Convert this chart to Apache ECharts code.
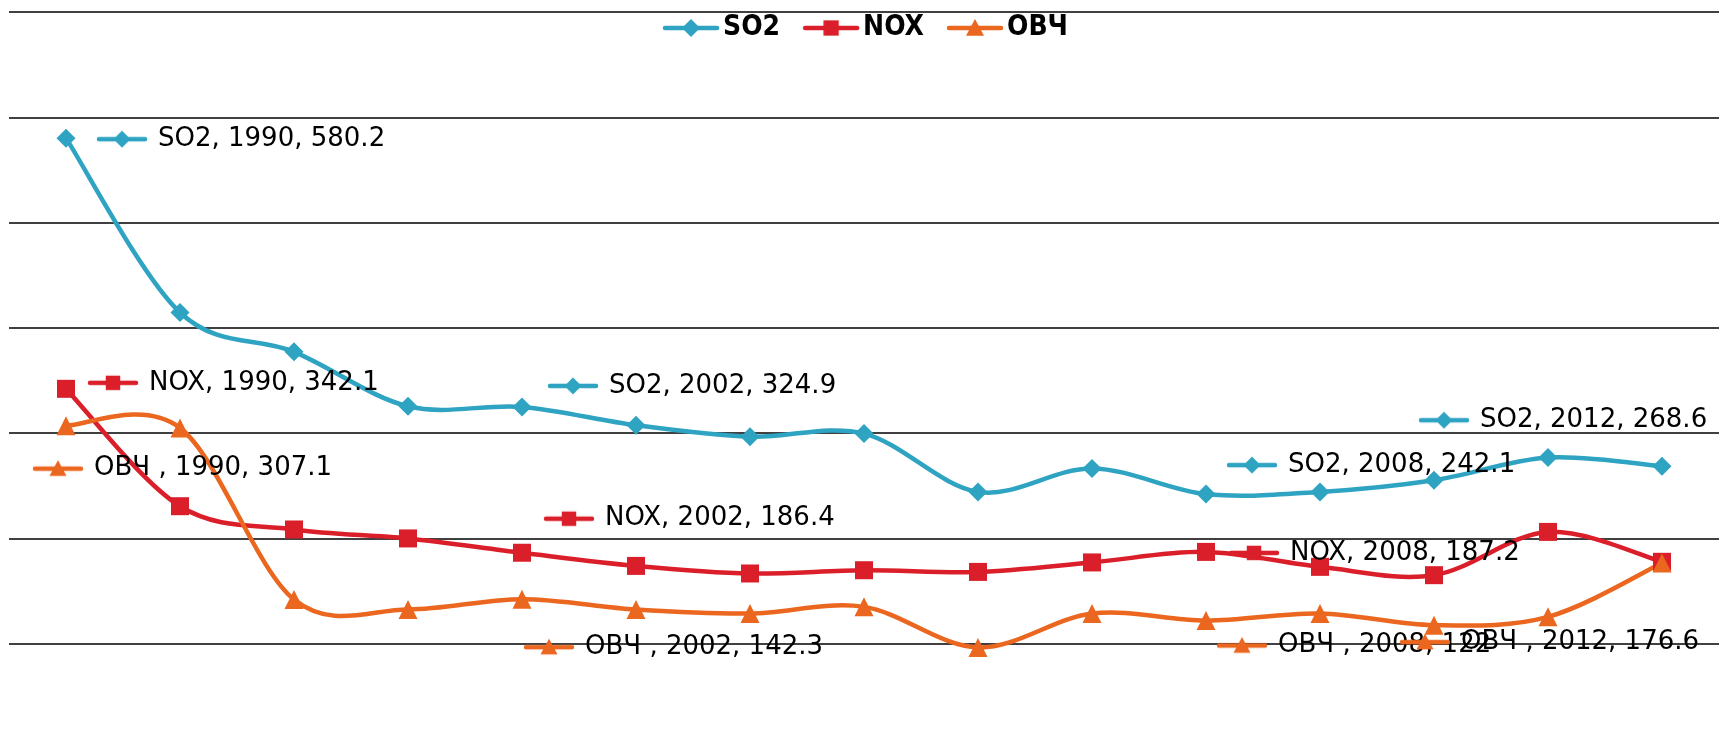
<!DOCTYPE html>
<html>
<head>
<meta charset="utf-8">
<script src="https://cdn.jsdelivr.net/npm/echarts@6/dist/echarts.min.js"></script>
<style>
  html, body { margin: 0; padding: 0; background: #fff; overflow: hidden; }
  #chart { width: 1719px; height: 752px; }
</style>
</head>
<body>
<div id="chart"></div>
<script>
// categories and values
const years = ['1990', '1995', '2000', '2001', '2002', '2003', '2004', '2005',
               '2006', '2007', '2008', '2009', '2010', '2011', '2012']
const so2 = [580.2, 414.6, 377.2, 325.5, 324.9, 307.5, 296.6, 299.6, 244.2, 266.5, 242.1, 244.2, 255.3, 276.9, 268.6]
const nox = [342.1, 230.6, 208.5, 200.0, 186.4, 173.9, 166.7, 169.8, 168.2, 177.2, 187.2, 173.0, 165.1, 206.2, 177.8]
const ovch = [307.1, 305.0, 142.0, 132.5, 142.3, 132.5, 128.7, 135.0, 96.4, 128.7, 122, 128.7, 117.6, 125.5, 176.6]

// where the labelled points' labels sit: index -> [key left from point, centre dy]
const labelPos = {
    so2: { 0: [30, 1], 4: [25, -21], 10: [20, -29], 14: [-244, -46] },
    nox: { 0: [21, -6], 4: [21, -34], 10: [22, 1] },
    ovch: { 0: [-34, 43], 4: [1, 48], 10: [10, 25], 14: [-263, 79] }
}

const colors = { so2: '#2ea3c2', nox: '#da1f2a', ovch: '#eb661e' }

// little key (line + marker) used in the legend and inside the labels
function keyIcon(color, shape, w, h, m) {
    const c = document.createElement('canvas')
    c.width = w
    c.height = h
    const g = c.getContext('2d')
    const cx = w / 2, cy = h / 2, r = m / 2
    g.strokeStyle = color
    g.lineWidth = 4.5
    g.lineCap = 'round'
    g.beginPath()
    g.moveTo(3, cy)
    g.lineTo(w - 3, cy)
    g.stroke()
    g.fillStyle = color
    g.beginPath()
    if (shape === 'diamond') {
        g.moveTo(cx, cy - r); g.lineTo(cx + r, cy); g.lineTo(cx, cy + r); g.lineTo(cx - r, cy)
    } else if (shape === 'rect') {
        g.rect(cx - r * 0.85, cy - r * 0.85, r * 1.7, r * 1.7)
    } else {
        g.moveTo(cx, cy - r); g.lineTo(cx + r, cy + r * 0.85); g.lineTo(cx - r, cy + r * 0.85)
    }
    g.closePath()
    g.fill()
    return c
}

// Excel-style smoothed line (catmull-rom through the points, via api.coord)
function curveSeries(name, key, values) {
    let n = values.length
    return {
        name: name,
        type: 'custom',
        silent: true,
        data: values.map((v, i) => [i, v]),
        encode: { x: 0, y: 1 },
        renderItem: function (params, api) {
            let i = params.dataIndex
            if (i >= n - 1) return null
            let pt = k => {
                k = Math.max(0, Math.min(n - 1, k))
                return api.coord([k, values[k]])
            }
            let p0 = pt(i - 1), p1 = pt(i), p2 = pt(i + 1), p3 = pt(i + 2)
            return {
                type: 'bezierCurve',
                shape: {
                    x1: p1[0], y1: p1[1],
                    cpx1: p1[0] + (p2[0] - p0[0]) / 6, cpy1: p1[1] + (p2[1] - p0[1]) / 6,
                    cpx2: p2[0] - (p3[0] - p1[0]) / 6, cpy2: p2[1] - (p3[1] - p1[1]) / 6,
                    x2: p2[0], y2: p2[1]
                },
                style: { stroke: colors[key], lineWidth: 4.5, fill: null, lineCap: 'round' }
            }
        }
    }
}

function pointSeries(name, key, values, shape, size) {
    let icon = keyIcon(colors[key], shape, 52, 20, 17)
    let data = values.map((v, i) => {
        let p = labelPos[key][i]
        if (!p) return v
        return {
            value: v,
            label: {
                show: true,
                position: 'right',
                distance: 0,
                offset: [p[0] - size / 2, p[1]],
                formatter: '{k| }{t|{a}, {b}, {c}}',
                rich: {
                    k: { width: 52, height: 20, verticalAlign: 'middle', backgroundColor: { image: icon } },
                    t: { fontSize: 26, fontFamily: 'DejaVu Sans', color: '#000', padding: [0, 0, 0, 10], verticalAlign: 'middle' }
                }
            }
        }
    })
    return {
        name: name,
        type: 'line',
        data: data,
        symbol: shape,
        symbolSize: size,
        showAllSymbol: true,
        itemStyle: { color: colors[key] },
        lineStyle: { width: 0, opacity: 0 }
    }
}

const legendIcon = (key, shape) => 'image://' + keyIcon(colors[key], shape, 58, 20, 18).toDataURL()

const chart = echarts.init(document.getElementById('chart'))
chart.setOption({
    animation: false,
    color: [colors.so2, colors.nox, colors.ovch],
    legend: {
        top: 9,
        left: 657,
        itemWidth: 58,
        itemHeight: 20,
        itemGap: 22,
        data: [
            { name: 'SO2', icon: legendIcon('so2', 'diamond') },
            { name: 'NOX', icon: legendIcon('nox', 'rect') },
            { name: 'ОВЧ ', icon: legendIcon('ovch', 'triangle') }
        ],
        textStyle: { fontSize: 28, fontFamily: 'DejaVu Sans Condensed', fontWeight: 'bold', color: '#000', padding: [0, 0, 0, -2] }
    },
    grid: { left: 9, right: 0, top: 12, height: 737 },
    xAxis: {
        type: 'category',
        data: years,
        boundaryGap: true,
        axisLine: { show: false },
        axisTick: { show: false },
        axisLabel: { show: false }
    },
    yAxis: {
        type: 'value',
        min: 0,
        max: 700,
        interval: 100,
        axisLabel: { show: false },
        axisLine: { show: false },
        axisTick: { show: false },
        splitLine: { lineStyle: { color: '#000', width: 1.6 } }
    },
    series: [
        curveSeries('SO2', 'so2', so2),
        pointSeries('SO2', 'so2', so2, 'diamond', 19),
        curveSeries('NOX', 'nox', nox),
        pointSeries('NOX', 'nox', nox, 'rect', 18),
        curveSeries('ОВЧ ', 'ovch', ovch),
        pointSeries('ОВЧ ', 'ovch', ovch, 'triangle', 19)
    ]
})
</script>
</body>
</html>
